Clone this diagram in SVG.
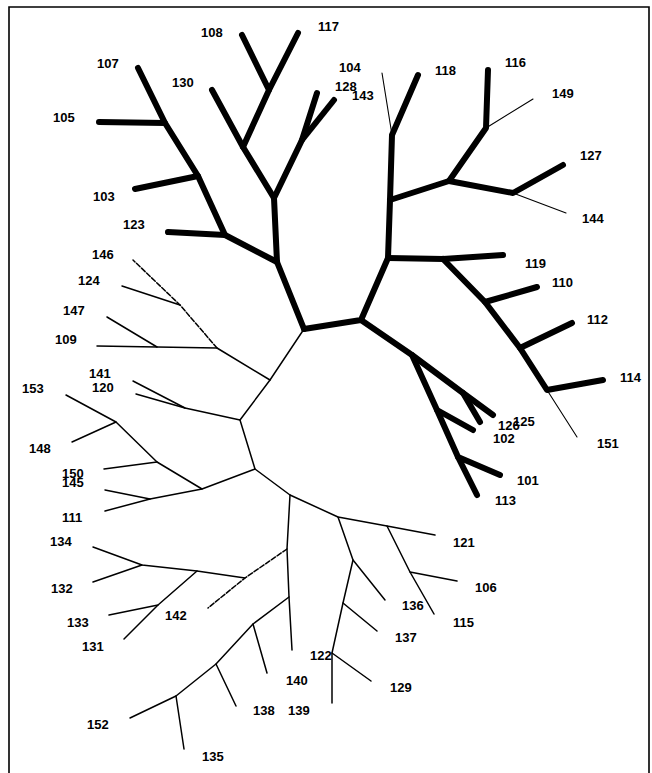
<svg xmlns="http://www.w3.org/2000/svg" width="652" height="773" viewBox="0 0 652 773">
  <style>
    .frame { fill: none; stroke: #000; stroke-width: 1.6; }
    .thick { fill: none; stroke: #000; stroke-width: 6; stroke-linecap: round; stroke-linejoin: round; }
    .thin { fill: none; stroke: #000; stroke-width: 1.5; stroke-linecap: round; stroke-linejoin: round; }
    .hair { fill: none; stroke: #000; stroke-width: 1.1; stroke-linecap: round; }
    .dash { stroke-dasharray: 5 2; }
    .lbl { font-family: "Liberation Sans", Arial, sans-serif; font-size: 13px; font-weight: bold; fill: #000; }
  </style>
  <rect width="652" height="773" fill="#fff"/>
  <path class="frame" d="M9,773 V7 H649 V773"/>

  <g id="connectors">
    <!-- heavy clade, upper left -->
    <path class="thick" d="M304,329 L277,262 L274,198 L243,147 L212,90"/>
    <path class="thick" d="M243,147 L269,90 L242,35"/>
    <path class="thick" d="M269,90 L298,33"/>
    <path class="thick" d="M274,198 L302,140 L317,93"/>
    <path class="thick" d="M302,140 L334,100"/>
    <path class="thick" d="M277,262 L225,235 L168,232"/>
    <path class="thick" d="M225,235 L198,176 L135,189"/>
    <path class="thick" d="M198,176 L165,123 L99,122"/>
    <path class="thick" d="M165,123 L138,68"/>
    <!-- heavy clade, right -->
    <path class="thick" d="M304,329 L361,320 L388,258 L390,200 L392,135 L418,75"/>
    <path class="hair" d="M392,135 L382,73"/>
    <path class="thick" d="M390,200 L449,181 L486,128 L488,70"/>
    <path class="hair" d="M486,128 L533,99"/>
    <path class="thick" d="M449,181 L513,193 L563,165"/>
    <path class="hair" d="M513,193 L566,213"/>
    <path class="thick" d="M388,258 L443,259 L503,255"/>
    <path class="thick" d="M443,259 L485,302 L537,287"/>
    <path class="thick" d="M485,302 L520,348 L572,323"/>
    <path class="thick" d="M520,348 L547,390 L603,380"/>
    <path class="hair" d="M547,390 L577,437"/>
    <path class="thick" d="M361,320 L412,355 L463,393 L493,415"/>
    <path class="thick" d="M463,393 L480,422"/>
    <path class="thick" d="M412,355 L437,410 L473,430"/>
    <path class="thick" d="M437,410 L458,457 L500,475"/>
    <path class="thick" d="M458,457 L477,495"/>
    <!-- light clade, left -->
    <path class="thin" d="M304,329 L270,380 L217,348 L157,347 L97,346"/>
    <path class="thin" d="M157,347 L107,317"/>
    <path class="thin dash" d="M217,348 L180,305 L133,260"/>
    <path class="thin" d="M180,305 L122,286"/>
    <path class="thin" d="M270,380 L240,420 L185,408 L133,381"/>
    <path class="thin" d="M185,408 L136,394"/>
    <path class="thin" d="M240,420 L255,469 L202,489 L157,462 L116,422 L66,395"/>
    <path class="thin" d="M116,422 L72,442"/>
    <path class="thin" d="M157,462 L104,469"/>
    <path class="thin" d="M202,489 L150,499 L105,490"/>
    <path class="thin" d="M150,499 L105,511"/>
    <!-- light clade, lower -->
    <path class="thin" d="M255,469 L290,495 L338,517 L387,526 L435,535"/>
    <path class="thin" d="M387,526 L410,572 L457,581"/>
    <path class="thin" d="M410,572 L434,614"/>
    <path class="thin" d="M338,517 L353,560 L385,600"/>
    <path class="thin" d="M353,560 L343,603 L377,631"/>
    <path class="thin" d="M343,603 L332,653 L371,681"/>
    <path class="thin" d="M332,653 L332,703"/>
    <path class="thin" d="M290,495 L287,549 L289,597 L292,650"/>
    <path class="thin dash" d="M287,549 L245,578 L208,608"/>
    <path class="thin" d="M245,578 L197,571 L142,565 L93,547"/>
    <path class="thin" d="M142,565 L93,582"/>
    <path class="thin" d="M197,571 L158,605 L109,615"/>
    <path class="thin" d="M158,605 L124,639"/>
    <path class="thin" d="M289,597 L253,624 L267,673"/>
    <path class="thin" d="M253,624 L216,664 L236,706"/>
    <path class="thin" d="M216,664 L176,696 L130,718"/>
    <path class="thin" d="M176,696 L184,749"/>
  </g>

  <g id="n108"><text class="lbl" x="201" y="37">108</text></g>
  <g id="n117"><text class="lbl" x="318" y="31">117</text></g>
  <g id="n107"><text class="lbl" x="97" y="68">107</text></g>
  <g id="n130"><text class="lbl" x="172" y="87">130</text></g>
  <g id="n105"><text class="lbl" x="53" y="122">105</text></g>
  <g id="n103"><text class="lbl" x="93" y="201">103</text></g>
  <g id="n123"><text class="lbl" x="123" y="229">123</text></g>
  <g id="n104"><text class="lbl" x="339" y="72">104</text></g>
  <g id="n128"><text class="lbl" x="335" y="91">128</text></g>
  <g id="n143"><text class="lbl" x="352" y="100">143</text></g>
  <g id="n118"><text class="lbl" x="435" y="75">118</text></g>
  <g id="n116"><text class="lbl" x="505" y="67">116</text></g>
  <g id="n149"><text class="lbl" x="552" y="98">149</text></g>
  <g id="n127"><text class="lbl" x="580" y="160">127</text></g>
  <g id="n144"><text class="lbl" x="582" y="223">144</text></g>
  <g id="n119"><text class="lbl" x="525" y="268">119</text></g>
  <g id="n110"><text class="lbl" x="552" y="287">110</text></g>
  <g id="n112"><text class="lbl" x="587" y="324">112</text></g>
  <g id="n114"><text class="lbl" x="620" y="382">114</text></g>
  <g id="n151"><text class="lbl" x="597" y="448">151</text></g>
  <g id="n126"><text class="lbl" x="498" y="430">126</text></g>
  <g id="n125"><text class="lbl" x="513" y="426">125</text></g>
  <g id="n102"><text class="lbl" x="493" y="443">102</text></g>
  <g id="n101"><text class="lbl" x="517" y="485">101</text></g>
  <g id="n113"><text class="lbl" x="495" y="505">113</text></g>
  <g id="n146"><text class="lbl" x="92" y="259">146</text></g>
  <g id="n124"><text class="lbl" x="78" y="285">124</text></g>
  <g id="n147"><text class="lbl" x="63" y="315">147</text></g>
  <g id="n109"><text class="lbl" x="55" y="344">109</text></g>
  <g id="n141"><text class="lbl" x="89" y="378">141</text></g>
  <g id="n120"><text class="lbl" x="92" y="392">120</text></g>
  <g id="n153"><text class="lbl" x="22" y="393">153</text></g>
  <g id="n148"><text class="lbl" x="29" y="453">148</text></g>
  <g id="n150"><text class="lbl" x="62" y="478">150</text></g>
  <g id="n145"><text class="lbl" x="62" y="487">145</text></g>
  <g id="n111"><text class="lbl" x="62" y="522">111</text></g>
  <g id="n134"><text class="lbl" x="50" y="546">134</text></g>
  <g id="n132"><text class="lbl" x="51" y="593">132</text></g>
  <g id="n133"><text class="lbl" x="67" y="627">133</text></g>
  <g id="n131"><text class="lbl" x="82" y="651">131</text></g>
  <g id="n142"><text class="lbl" x="165" y="620">142</text></g>
  <g id="n152"><text class="lbl" x="87" y="729">152</text></g>
  <g id="n135"><text class="lbl" x="202" y="761">135</text></g>
  <g id="n138"><text class="lbl" x="253" y="715">138</text></g>
  <g id="n140"><text class="lbl" x="286" y="685">140</text></g>
  <g id="n139"><text class="lbl" x="288" y="715">139</text></g>
  <g id="n122"><text class="lbl" x="310" y="660">122</text></g>
  <g id="n129"><text class="lbl" x="390" y="692">129</text></g>
  <g id="n137"><text class="lbl" x="395" y="642">137</text></g>
  <g id="n136"><text class="lbl" x="402" y="610">136</text></g>
  <g id="n115"><text class="lbl" x="453" y="627">115</text></g>
  <g id="n106"><text class="lbl" x="475" y="592">106</text></g>
  <g id="n121"><text class="lbl" x="453" y="547">121</text></g>
</svg>
